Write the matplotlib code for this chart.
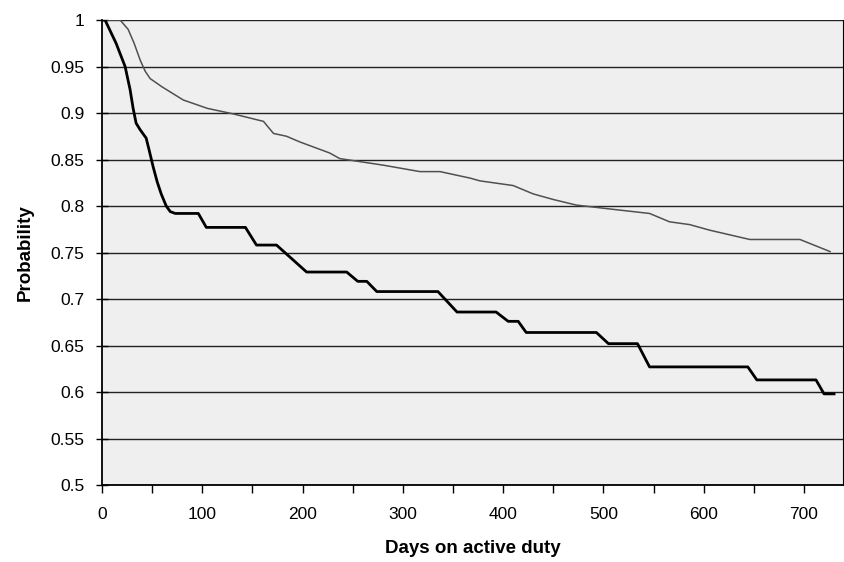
import matplotlib
matplotlib.use("Agg")
import matplotlib.pyplot as plt
from matplotlib.ticker import MultipleLocator

plt.rcParams['font.family'] = ['Liberation Sans', 'DejaVu Sans']

# lower curve (thick black)
days_a = [0, 3, 14, 23, 28, 31, 34, 38, 44, 47, 51, 55, 59, 64, 68, 73, 96,
          104, 143, 154, 174, 204, 244, 255, 264, 274, 335, 354, 393, 405,
          415, 423, 493, 505, 534, 546, 644, 653, 712, 720, 730]
prob_a = [1.0, 1.0, 0.975, 0.95, 0.925, 0.905, 0.889, 0.882, 0.873, 0.86,
          0.842, 0.826, 0.813, 0.80, 0.794, 0.792, 0.792, 0.777, 0.777, 0.758,
          0.758, 0.729, 0.729, 0.719, 0.719, 0.708, 0.708, 0.686, 0.686, 0.676,
          0.676, 0.664, 0.664, 0.652, 0.652, 0.627, 0.627, 0.613, 0.613, 0.598,
          0.598]

# upper curve (thin grey)
days_b = [0, 18, 26, 32, 38, 43, 48, 60, 81, 105, 131, 161, 171, 184, 197,
          227, 237, 280, 317, 337, 367, 377, 410, 430, 450, 473, 513, 546,
          566, 586, 606, 626, 646, 696, 726]
prob_b = [1.0, 1.0, 0.99, 0.975, 0.957, 0.945, 0.937, 0.928, 0.914, 0.905,
          0.899, 0.891, 0.878, 0.875, 0.869, 0.857, 0.851, 0.844, 0.837, 0.837,
          0.830, 0.827, 0.822, 0.813, 0.807, 0.801, 0.796, 0.792, 0.783, 0.780,
          0.774, 0.769, 0.764, 0.764, 0.751]

fig = plt.figure(figsize=(8.44, 5.62), dpi=100)
ax = fig.add_axes([0.1209, 0.137, 0.878, 0.8274])
ax.set_facecolor('#efefef')

# horizontal grid
ax.set_yticks([0.5 + 0.05 * i for i in range(11)])
ax.yaxis.grid(True, color='#222222', linewidth=1.0)
ax.set_axisbelow(True)

ax.plot(days_b, prob_b, color='#505050', linewidth=1.1, zorder=3)
ax.plot(days_a, prob_a, color='black', linewidth=2.0, zorder=4)

ax.set_xlim(0, 739)
ax.set_ylim(0.5, 1.0)

ax.xaxis.set_major_locator(MultipleLocator(100))
ax.xaxis.set_minor_locator(MultipleLocator(50))
ax.set_yticklabels(['0.5', '0.55', '0.6', '0.65', '0.7', '0.75', '0.8',
                    '0.85', '0.9', '0.95', '1'])

ax.tick_params(axis='x', which='both', direction='out', length=6, width=1,
               labelsize=12.5, pad=10)
ax.tick_params(axis='y', direction='inout', length=9, width=1,
               labelsize=12.5, pad=8)

for side in ['left', 'bottom']:
    ax.spines[side].set_linewidth(1.3)
    ax.spines[side].set_color('black')
ax.spines['right'].set_linewidth(0.8)
ax.spines['top'].set_visible(False)

ax.set_xlabel('Days on active duty', fontsize=13.5, fontweight='bold', labelpad=13)
ax.set_ylabel('Probability', fontsize=13.5, fontweight='bold', labelpad=12)

fig.savefig('out.png', dpi=100)
